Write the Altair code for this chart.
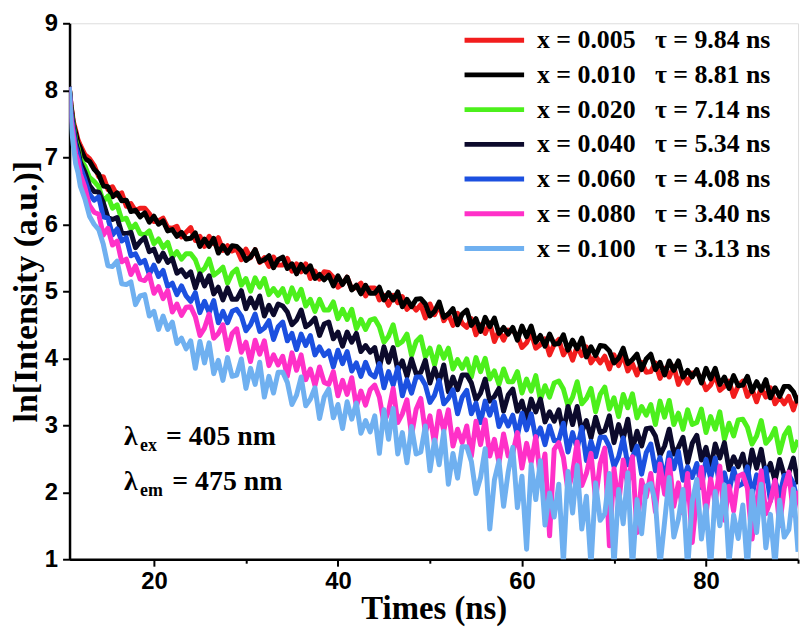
import altair as alt
import pandas as pd

# sampling times (ns): a few early points, then every 0.5 ns from 14 to 90
TIME = [10.8, 11.0, 11.25, 11.5, 11.75, 12.0, 12.5, 13.0, 13.5] + [14 + 0.5 * k for k in range(153)]

LABELS = ["x = 0.005", "x = 0.010", "x = 0.020", "x = 0.040", "x = 0.060", "x = 0.080", "x = 0.100"]
TAUS = ["τ = 9.84 ns", "τ = 8.81 ns", "τ = 7.14 ns", "τ = 5.34 ns", "τ = 4.08 ns", "τ = 3.40 ns", "τ = 3.13 ns"]
COLORS = ["#f21d1d", "#000000", "#4cf01c", "#0c0a2c", "#1c50e0", "#ff30c8", "#6fb0f0"]

RED = [8.05, 7.78, 7.53, 7.40, 7.26, 7.18, 7.04, 6.98, 6.88,
       6.71, 6.71, 6.52, 6.56, 6.43, 6.47, 6.27, 6.31, 6.20, 6.24,
       6.24, 6.16, 6.04, 6.05, 6.09, 5.95, 5.94, 5.97, 5.81, 5.88,
       5.95, 5.76, 5.82, 5.67, 5.82, 5.71, 5.80, 5.61, 5.68, 5.60,
       5.63, 5.47, 5.63, 5.50, 5.62, 5.43, 5.50, 5.37, 5.51, 5.39,
       5.39, 5.49, 5.30, 5.41, 5.29, 5.41, 5.19, 5.30, 5.18, 5.29,
       5.28, 5.21, 5.06, 5.11, 5.21, 5.03, 5.06, 5.12, 4.93, 5.05,
       5.05, 4.87, 4.94, 4.79, 4.94, 4.83, 4.92, 4.73, 4.80, 4.72,
       4.80, 4.60, 4.81, 4.65, 4.80, 4.56, 4.66, 4.49, 4.67, 4.52,
       4.46, 4.59, 4.35, 4.50, 4.37, 4.53, 4.25, 4.41, 4.27, 4.42,
       4.41, 4.34, 4.16, 4.23, 4.38, 4.15, 4.20, 4.29, 4.05, 4.21,
       4.28, 4.05, 4.16, 3.97, 4.18, 4.04, 4.17, 3.93, 4.03, 3.93,
       4.03, 3.84, 4.05, 3.89, 4.05, 3.81, 3.92, 3.75, 3.94, 3.79,
       3.80, 3.93, 3.70, 3.85, 3.72, 3.88, 3.61, 3.76, 3.63, 3.78,
       3.78, 3.70, 3.53, 3.60, 3.75, 3.52, 3.58, 3.66, 3.43, 3.59,
       3.66, 3.43, 3.54, 3.35, 3.56, 3.42, 3.56, 3.32, 3.42, 3.32,
       3.43, 3.23, 3.45]

BLACK = [8.05, 7.76, 7.49, 7.36, 7.21, 7.14, 6.98, 6.94, 6.82,
         6.75, 6.57, 6.56, 6.41, 6.47, 6.35, 6.36, 6.19, 6.21, 6.11,
         6.17, 6.03, 6.12, 6.00, 6.05, 5.90, 5.92, 5.82, 5.88, 5.78,
         5.79, 5.87, 5.67, 5.78, 5.67, 5.79, 5.57, 5.68, 5.57, 5.68,
         5.67, 5.60, 5.46, 5.51, 5.62, 5.44, 5.47, 5.53, 5.35, 5.47,
         5.51, 5.34, 5.41, 5.26, 5.40, 5.29, 5.38, 5.19, 5.25, 5.17,
         5.24, 5.08, 5.23, 5.10, 5.21, 5.02, 5.09, 4.96, 5.09, 4.97,
         4.97, 5.06, 4.87, 4.98, 4.87, 4.99, 4.77, 4.88, 4.77, 4.88,
         4.89, 4.81, 4.63, 4.70, 4.84, 4.61, 4.66, 4.74, 4.50, 4.66,
         4.72, 4.49, 4.59, 4.40, 4.61, 4.47, 4.60, 4.37, 4.46, 4.36,
         4.46, 4.27, 4.48, 4.32, 4.48, 4.24, 4.34, 4.18, 4.36, 4.21,
         4.22, 4.35, 4.12, 4.27, 4.14, 4.30, 4.02, 4.17, 4.04, 4.19,
         4.18, 4.11, 3.93, 4.00, 4.15, 3.92, 3.98, 4.06, 3.83, 3.99,
         4.06, 3.83, 3.94, 3.75, 3.96, 3.82, 3.96, 3.72, 3.82, 3.72,
         3.83, 3.63, 3.85, 3.69, 3.85, 3.61, 3.72, 3.55, 3.74, 3.59,
         3.60, 3.73, 3.50, 3.65, 3.52, 3.68, 3.41, 3.56, 3.43, 3.58,
         3.58, 3.50, 3.33]

GREEN = [8.05, 7.70, 7.47, 7.26, 7.14, 6.98, 6.87, 6.70, 6.64,
         6.56, 6.34, 6.42, 6.24, 6.29, 6.07, 6.09, 5.93, 6.00, 5.86,
         5.84, 5.90, 5.71, 5.78, 5.65, 5.73, 5.51, 5.59, 5.48, 5.56,
         5.56, 5.47, 5.28, 5.34, 5.48, 5.24, 5.29, 5.36, 5.12, 5.27,
         5.33, 5.09, 5.19, 5.00, 5.20, 5.06, 5.19, 4.95, 5.04, 4.94,
         5.04, 4.84, 5.05, 4.88, 5.03, 4.78, 4.88, 4.70, 4.88, 4.72,
         4.72, 4.84, 4.59, 4.73, 4.58, 4.73, 4.44, 4.58, 4.43, 4.57,
         4.59, 4.47, 4.24, 4.33, 4.50, 4.20, 4.25, 4.36, 4.04, 4.25,
         4.32, 4.02, 4.15, 3.90, 4.17, 4.00, 4.15, 3.84, 3.98, 3.85,
         3.99, 3.72, 4.01, 3.80, 4.00, 3.69, 3.81, 3.61, 3.84, 3.65,
         3.65, 3.80, 3.48, 3.69, 3.51, 3.74, 3.38, 3.59, 3.42, 3.63,
         3.66, 3.54, 3.29, 3.42, 3.65, 3.32, 3.40, 3.55, 3.20, 3.46,
         3.57, 3.24, 3.41, 3.13, 3.46, 3.26, 3.47, 3.11, 3.28, 3.15,
         3.31, 3.01, 3.36, 3.12, 3.37, 3.01, 3.18, 2.94, 3.23, 3.01,
         3.04, 3.24, 2.89, 3.13, 2.94, 3.20, 2.79, 3.03, 2.84, 3.08,
         3.09, 2.97, 2.72, 2.84, 3.07, 2.73, 2.81, 2.95, 2.59, 2.85,
         2.96, 2.62, 2.78]

NAVY = [8.05, 7.68, 7.44, 7.22, 7.10, 6.93, 6.78, 6.58, 6.49,
        6.48, 6.32, 6.10, 6.07, 6.10, 5.87, 5.86, 5.88, 5.65, 5.74,
        5.80, 5.59, 5.63, 5.45, 5.57, 5.43, 5.49, 5.27, 5.32, 5.22,
        5.29, 5.05, 5.26, 5.08, 5.23, 4.96, 5.06, 4.87, 5.05, 4.88,
        4.88, 5.01, 4.74, 4.90, 4.75, 4.93, 4.63, 4.79, 4.65, 4.81,
        4.78, 4.69, 4.50, 4.57, 4.72, 4.47, 4.52, 4.60, 4.34, 4.51,
        4.54, 4.29, 4.39, 4.18, 4.39, 4.24, 4.37, 4.10, 4.19, 4.09,
        4.16, 3.86, 4.17, 3.94, 4.16, 3.82, 3.96, 3.73, 3.99, 3.77,
        3.79, 3.97, 3.63, 3.85, 3.65, 3.90, 3.50, 3.72, 3.53, 3.75,
        3.75, 3.63, 3.38, 3.48, 3.69, 3.36, 3.43, 3.55, 3.21, 3.45,
        3.54, 3.21, 3.36, 3.09, 3.39, 3.20, 3.39, 3.05, 3.20, 3.06,
        3.23, 2.90, 3.28, 3.01, 3.28, 2.90, 3.07, 2.81, 3.12, 2.89,
        2.92, 3.14, 2.74, 3.01, 2.80, 3.09, 2.63, 2.91, 2.69, 2.95,
        2.96, 2.84, 2.55, 2.69, 2.94, 2.57, 2.67, 2.82, 2.44, 2.73,
        2.85, 2.48, 2.67, 2.36, 2.72, 2.51, 2.74, 2.34, 2.53, 2.38,
        2.57, 2.24, 2.63, 2.36, 2.64, 2.25, 2.43, 2.17, 2.49, 2.25,
        2.29, 2.51, 2.12]

BLUE = [8.05, 7.64, 7.40, 7.16, 7.04, 6.86, 6.67, 6.45, 6.36,
        6.41, 6.11, 6.09, 5.84, 5.93, 5.75, 5.80, 5.53, 5.56, 5.42,
        5.46, 5.25, 5.39, 5.22, 5.31, 5.07, 5.12, 4.95, 5.08, 4.93,
        4.85, 4.98, 4.68, 4.85, 4.68, 4.86, 4.53, 4.70, 4.53, 4.70,
        4.73, 4.63, 4.41, 4.50, 4.66, 4.40, 4.45, 4.56, 4.28, 4.47,
        4.54, 4.26, 4.37, 4.13, 4.36, 4.19, 4.34, 4.05, 4.17, 4.04,
        4.11, 3.87, 4.12, 3.92, 4.10, 3.81, 3.93, 3.73, 3.94, 3.77,
        3.72, 3.92, 3.56, 3.80, 3.60, 3.86, 3.44, 3.68, 3.48, 3.72,
        3.72, 3.60, 3.34, 3.45, 3.67, 3.32, 3.40, 3.53, 3.17, 3.42,
        3.52, 3.17, 3.33, 3.04, 3.36, 3.15, 3.35, 2.98, 3.14, 2.99,
        3.15, 2.84, 3.18, 2.93, 3.17, 2.80, 2.96, 2.71, 2.99, 2.77,
        2.78, 3.03, 2.60, 2.89, 2.65, 2.97, 2.47, 2.76, 2.53, 2.82,
        2.82, 2.68, 2.38, 2.53, 2.81, 2.41, 2.52, 2.69, 2.27, 2.59,
        2.72, 2.32, 2.52, 2.19, 2.59, 2.35, 2.61, 2.18, 2.38, 2.22,
        2.43, 2.07, 2.49, 2.21, 2.51, 2.08, 2.29, 2.00, 2.35, 2.09,
        2.13, 2.38, 1.96, 2.26, 2.03, 2.36, 1.87, 2.17, 1.95, 2.25,
        2.26, 2.13, 1.83]

PINK = [8.05, 7.58, 7.32, 7.05, 6.94, 6.75, 6.55, 6.28, 6.18,
        6.15, 5.84, 5.94, 5.69, 5.75, 5.44, 5.48, 5.25, 5.38, 5.18,
        5.16, 5.25, 4.97, 5.07, 4.89, 5.01, 4.69, 4.81, 4.64, 4.76,
        4.77, 4.62, 4.34, 4.45, 4.66, 4.30, 4.37, 4.50, 4.13, 4.37,
        4.44, 4.09, 4.24, 3.95, 4.27, 4.06, 4.26, 3.89, 4.05, 3.90,
        4.03, 3.73, 4.08, 3.82, 4.05, 3.68, 3.84, 3.59, 3.87, 3.64,
        3.61, 3.80, 3.44, 3.67, 3.46, 3.71, 3.28, 3.51, 3.30, 3.53,
        3.60, 3.42, 3.03, 3.21, 3.55, 3.04, 3.17, 3.38, 2.85, 3.24,
        3.40, 2.89, 3.14, 2.72, 3.21, 2.92, 3.23, 2.69, 2.94, 2.74,
        2.99, 2.54, 3.06, 2.71, 3.08, 2.54, 2.79, 2.44, 2.87, 2.54,
        2.58, 2.89, 2.36, 2.73, 2.44, 2.83, 2.20, 2.57, 1.35, 2.64,
        2.74, 2.52, 2.02, 2.29, 2.75, 2.10, 2.28, 2.58, 1.89, 2.43,
        2.66, 1.20, 2.35, 1.81, 2.48, 2.10, 2.53, 1.40, 2.18, 1.93,
        2.28, 1.71, 2.42, 1.97, 2.48, 1.79, 2.14, 1.69, 2.28, 1.25,
        1.94, 2.37, 1.68, 2.20, 1.84, 2.39, 1.58, 2.09, 1.72, 2.24,
        2.27, 2.06, 1.30, 1.85, 2.32, 1.68, 1.87, 2.18, 1.50, 2.06,
        2.30, 1.66, 2.02]

LBLUE = [8.05, 7.48, 7.17, 6.90, 6.77, 6.57, 6.38, 6.12, 6.00,
         5.92, 5.70, 5.38, 5.37, 5.45, 5.11, 5.10, 5.14, 4.80, 4.93,
         4.95, 4.63, 4.70, 4.43, 4.63, 4.43, 4.54, 4.22, 4.30, 4.14,
         4.26, 3.85, 4.25, 3.93, 4.23, 3.77, 3.97, 3.67, 4.01, 3.73,
         3.75, 3.99, 3.55, 3.85, 3.61, 3.94, 3.42, 3.73, 3.48, 3.79,
         3.79, 3.64, 3.31, 3.45, 3.72, 3.29, 3.39, 3.56, 3.10, 3.42,
         3.54, 3.11, 3.31, 2.95, 3.35, 3.09, 3.33, 2.88, 3.07, 2.90,
         3.14, 2.58, 3.23, 2.79, 3.25, 2.57, 2.89, 2.44, 2.98, 2.57,
         2.60, 2.99, 2.32, 2.78, 2.41, 2.91, 2.12, 2.58, 2.21, 2.68,
         2.68, 2.46, 1.98, 2.22, 2.65, 1.45, 2.18, 2.47, 1.79, 2.30,
         2.67, 1.77, 2.24, 1.15, 2.41, 1.89, 2.47, 1.51, 1.99, 1.63,
         2.12, 0.95, 2.31, 1.69, 2.40, 1.45, 1.94, 0.90, 2.14, 1.58,
         1.68, 2.28, 0.90, 2.04, 1.53, 2.29, 0.85, 1.89, 1.38, 2.09,
         2.13, 1.85, 0.90, 1.56, 2.22, 1.33, 1.60, 2.04, 0.85, 1.86,
         2.19, 1.30, 1.80, 0.85, 2.01, 1.50, 2.11, 0.95, 1.66, 1.31,
         1.81, 0.85, 2.02, 1.40, 2.12, 1.17, 1.67, 0.90, 1.88, 1.33,
         1.44, 2.05, 1.11]

SERIES = [RED, BLACK, GREEN, NAVY, BLUE, PINK, LBLUE]

# annotation pieces: text, time position, value position, font size
ANN_TEXT = ["λ", "ex", "= 405 nm", "λ", "em", "= 475 nm"]
ANN_T = [16.75, 18.5, 21.3, 16.75, 18.5, 22.0]
ANN_V = [2.70, 2.61, 2.70, 2.03, 1.94, 2.03]
ANN_SIZE = [28, 18, 28, 28, 18, 28]

NB = "\u00a0"
names = [f"{l}{NB * 3}{t}" for l, t in zip(LABELS, TAUS)]

rows = []
for name, vals in zip(names, SERIES):
    for t, v in zip(TIME, vals):
        rows.append({"t": t, "v": v, "series": name})
df = pd.DataFrame(rows)

ann = pd.DataFrame({"text": ANN_TEXT, "t": ANN_T, "v": ANN_V, "fs": ANN_SIZE})

xscale = alt.Scale(domain=[10.83, 90], nice=False, zero=False)
yscale = alt.Scale(domain=[1, 9], nice=False, zero=False)

xaxis = alt.Axis(
    values=[20, 30, 40, 50, 60, 70, 80, 90],
    labelExpr="datum.value % 20 === 0 ? datum.label : ''",
    tickSize={"condition": {"test": "datum.value % 20 === 0", "value": 7}, "value": 4},
    labelFont="Liberation Sans", labelFontWeight="bold", labelFontSize=24, labelColor="black",
    labelPadding=3, labelFlush=False, labelOverlap=False,
    titleFont="Liberation Serif", titleFontWeight="bold", titleFontSize=33, titleColor="black",
    titlePadding=0, grid=False, domainColor="black", domainWidth=2.5, tickColor="black", tickWidth=2,
)
yaxis = alt.Axis(
    values=[1, 1.5, 2, 2.5, 3, 3.5, 4, 4.5, 5, 5.5, 6, 6.5, 7, 7.5, 8, 8.5, 9],
    labelExpr="datum.value % 1 === 0 ? format(datum.value, 'd') : ''",
    tickSize={"condition": {"test": "datum.value % 1 === 0", "value": 7}, "value": 4},
    labelFont="Liberation Sans", labelFontWeight="bold", labelFontSize=24, labelColor="black",
    labelPadding=5, labelFlush=False, labelOverlap=False,
    titleFont="Liberation Serif", titleFontWeight="bold", titleFontSize=34, titleColor="black",
    titlePadding=1, grid=False, domainColor="black", domainWidth=2.5, tickColor="black", tickWidth=2,
)

lines = alt.Chart(df).mark_line(strokeWidth=5, clip=True, strokeJoin="round").encode(
    x=alt.X("t:Q", scale=xscale, axis=xaxis, title="Times (ns)"),
    y=alt.Y("v:Q", scale=yscale, axis=yaxis, title="ln[Intensity (a.u.)]"),
    color=alt.Color(
        "series:N",
        scale=alt.Scale(domain=names, range=COLORS),
        sort=names,
        title=None,
        legend=alt.Legend(
            orient="none", legendX=415, legendY=4,
            labelFont="Liberation Serif", labelFontWeight="bold", labelFontSize=26, labelColor="black",
            symbolType="M-3,0H3", symbolSize=400, symbolStrokeWidth=5,
            labelOffset=30, rowPadding=9, padding=0, labelLimit=500,
        ),
    ),
)

text = alt.Chart(ann).mark_text(
    align="left", baseline="alphabetic", font="Liberation Serif", fontWeight="bold", color="black"
).encode(
    x=alt.X("t:Q", scale=xscale),
    y=alt.Y("v:Q", scale=yscale),
    text="text:N",
    size=alt.Size("fs:Q", scale=None, legend=None),
)

chart = alt.layer(lines, text).properties(
    width=734, height=540,
    autosize=alt.AutoSizeParams(type="none"),
    padding={"left": 62, "top": 13, "right": 5, "bottom": 80},
).configure_view(stroke="black", strokeWidth=2.5).configure(background="white")

chart.save("out.html", embed_options={"renderer": "svg", "actions": False})
